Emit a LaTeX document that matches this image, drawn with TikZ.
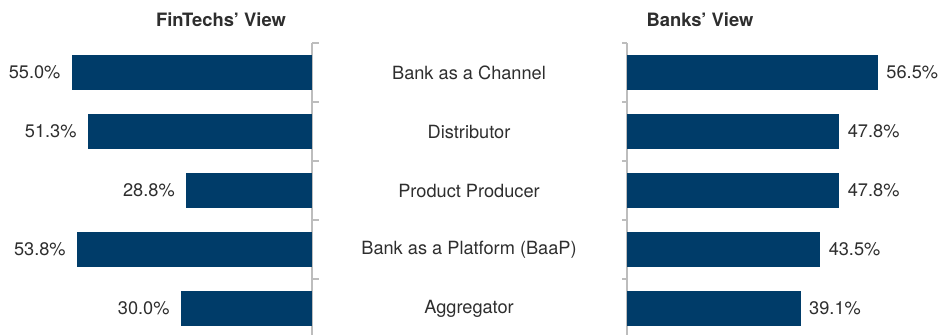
\documentclass[tikz,border=0pt]{standalone}
\usepackage{fontspec}
\setmainfont{TeX Gyre Heros}
\definecolor{barblue}{HTML}{003C69}
\definecolor{txtgray}{HTML}{2E2E2E}
\definecolor{axisgray}{HTML}{BDBDBD}
\begin{document}
\begin{tikzpicture}[x=1pt,y=-1pt,
  hbar/.style={fill=barblue,draw=none,inner sep=0pt,minimum height=34.5pt},
  val/.style={font=\fontsize{18.2}{20}\selectfont,text=txtgray,inner sep=0pt},
  cat/.style={font=\fontsize{18.2}{20}\selectfont,text=txtgray,inner sep=0pt},
  ttl/.style={font=\fontsize{18.4}{20}\selectfont\bfseries,text=txtgray,inner sep=0pt},
  axisline/.style={draw=axisgray,line width=1.2pt}]
\useasboundingbox (0,0) rectangle (939,335);
% titles
\node[ttl] (tf) at (221,20) {FinTechs’ View};
\node[ttl] (tb) at (700,20) {Banks’ View};
% axes
\coordinate (la0) at (312,43);
\coordinate (la1) at (312,335);
\coordinate (ra0) at (627,43);
\coordinate (ra1) at (627,335);
\draw[axisline] (la0) -- (la1);
\draw[axisline] (ra0) -- (ra1);
\foreach \k in {0,1,2,3,4}{
  \draw[axisline] (312,43+59*\k) -- (319,43+59*\k);
  \draw[axisline] (627,43+59*\k) -- (622,43+59*\k);
}
% data
\foreach \i/\f/\b/\c in {
  1/55.0/56.5/Bank as a Channel,
  2/51.3/47.8/Distributor,
  3/28.8/47.8/Product Producer,
  4/53.8/43.5/Bank as a Platform (BaaP),
  5/30.0/39.1/Aggregator}{
  \pgfmathsetmacro{\yc}{72.5+59*(\i-1)}
  \pgfmathsetmacro{\wf}{4.364*\f}
  \pgfmathsetmacro{\wb}{4.44*\b}
  \node[hbar,anchor=east,minimum width=\wf pt] (fb\i) at (312,\yc) {};
  \node[hbar,anchor=west,minimum width=\wb pt] (bb\i) at (627,\yc) {};
  \node[val,anchor=east] (fv\i) at ([xshift=-11pt]fb\i.west) {\f\%};
  \node[val,anchor=west] (bv\i) at ([xshift=8pt]bb\i.east) {\b\%};
  \node[cat] (c\i) at (469,\yc) {\c};
}
\end{tikzpicture}
\end{document}
